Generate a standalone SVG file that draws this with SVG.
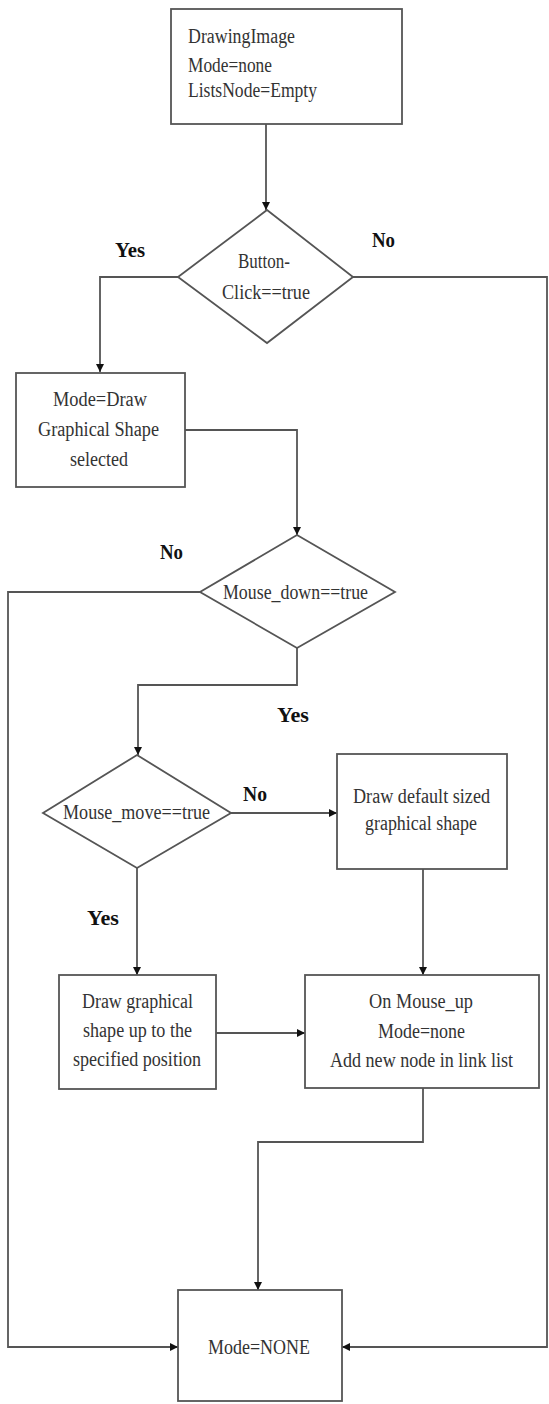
<svg xmlns="http://www.w3.org/2000/svg" width="549" height="1404" viewBox="0 0 549 1404">
<defs>
<marker id="arr" viewBox="0 0 10 10" refX="10" refY="5" markerWidth="8" markerHeight="8" markerUnits="userSpaceOnUse" orient="auto">
<path d="M0,0 L10,5 L0,10 z" fill="#111"/>
</marker>
<style>
.box{fill:#fff;stroke:#555;stroke-width:1.8}
.t{font-family:"Liberation Serif","Times New Roman",serif;font-size:20px;fill:#333}
.lb{font-family:"Liberation Serif","Times New Roman",serif;font-size:21px;font-weight:bold;fill:#111}
.c{fill:none;stroke:#555;stroke-width:1.8}
.ca{fill:none;stroke:#555;stroke-width:1.8;marker-end:url(#arr)}
</style>
</defs>
<rect width="549" height="1404" fill="#fff"/>
<g id="connectors">
<path class="ca" d="M266,124 V210"/>
<path class="ca" d="M178,277 H100 V372"/>
<path class="ca" d="M353,277 H547 V1347 H342"/>
<path class="ca" d="M185,430 H297 V535"/>
<path class="ca" d="M200,592 H8 V1347 H178"/>
<path class="ca" d="M297,648 V685 H138 V755"/>
<path class="ca" d="M231,813 H337"/>
<path class="ca" d="M137,868 V975"/>
<path class="ca" d="M423,869 V975"/>
<path class="ca" d="M216,1033 H305"/>
<path class="ca" d="M423,1088 V1142 H258 V1290"/>
</g>
<g id="labels">
<text class="lb" x="115" y="257" textLength="30" lengthAdjust="spacingAndGlyphs">Yes</text>
<text class="lb" x="372" y="247" textLength="23" lengthAdjust="spacingAndGlyphs">No</text>
<text class="lb" x="160" y="559" textLength="23" lengthAdjust="spacingAndGlyphs">No</text>
<text class="lb" x="277" y="722" textLength="32" lengthAdjust="spacingAndGlyphs">Yes</text>
<text class="lb" x="243" y="801" textLength="24" lengthAdjust="spacingAndGlyphs">No</text>
<text class="lb" x="87" y="925" textLength="32" lengthAdjust="spacingAndGlyphs">Yes</text>
</g>
<g id="start">
<rect class="box" x="171" y="9" width="231" height="115"/>
<text class="t" x="188" y="43" textLength="107" lengthAdjust="spacingAndGlyphs">DrawingImage</text>
<text class="t" x="188" y="72" textLength="84" lengthAdjust="spacingAndGlyphs">Mode=none</text>
<text class="t" x="188" y="97" textLength="129" lengthAdjust="spacingAndGlyphs">ListsNode=Empty</text>
</g>
<g id="buttonclick">
<polygon class="box" points="267,210 353,277 267,343 178,277"/>
<text class="t" x="238" y="268" textLength="52" lengthAdjust="spacingAndGlyphs">Button-</text>
<text class="t" x="222" y="299" textLength="88" lengthAdjust="spacingAndGlyphs">Click==true</text>
</g>
<g id="modedraw">
<rect class="box" x="16" y="373" width="169" height="114"/>
<text class="t" x="53" y="406" textLength="94" lengthAdjust="spacingAndGlyphs">Mode=Draw</text>
<text class="t" x="38" y="436" textLength="121" lengthAdjust="spacingAndGlyphs">Graphical Shape</text>
<text class="t" x="70" y="466" textLength="58" lengthAdjust="spacingAndGlyphs">selected</text>
</g>
<g id="mousedown">
<polygon class="box" points="297,535 395,592 297,648 200,592"/>
<text class="t" x="223" y="599" textLength="145" lengthAdjust="spacingAndGlyphs">Mouse_down==true</text>
</g>
<g id="mousemove">
<polygon class="box" points="137,755 231,813 137,868 43,813"/>
<text class="t" x="63" y="819" textLength="147" lengthAdjust="spacingAndGlyphs">Mouse_move==true</text>
</g>
<g id="drawdefault">
<rect class="box" x="337" y="754" width="170" height="115"/>
<text class="t" x="353" y="803" textLength="137" lengthAdjust="spacingAndGlyphs">Draw default sized</text>
<text class="t" x="365" y="830" textLength="112" lengthAdjust="spacingAndGlyphs">graphical shape</text>
</g>
<g id="drawgraphical">
<rect class="box" x="59" y="975" width="157" height="114"/>
<text class="t" x="82" y="1008" textLength="111" lengthAdjust="spacingAndGlyphs">Draw graphical</text>
<text class="t" x="83" y="1037" textLength="109" lengthAdjust="spacingAndGlyphs">shape up to the</text>
<text class="t" x="73" y="1066" textLength="128" lengthAdjust="spacingAndGlyphs">specified position</text>
</g>
<g id="mouseup">
<rect class="box" x="305" y="975" width="234" height="113"/>
<text class="t" x="369" y="1008" textLength="104" lengthAdjust="spacingAndGlyphs">On Mouse_up</text>
<text class="t" x="378" y="1038" textLength="87" lengthAdjust="spacingAndGlyphs">Mode=none</text>
<text class="t" x="330" y="1067" textLength="183" lengthAdjust="spacingAndGlyphs">Add new node in link list</text>
</g>
<g id="modenone">
<rect class="box" x="178" y="1290" width="164" height="111"/>
<text class="t" x="208" y="1354" textLength="102" lengthAdjust="spacingAndGlyphs">Mode=NONE</text>
</g>
</svg>
